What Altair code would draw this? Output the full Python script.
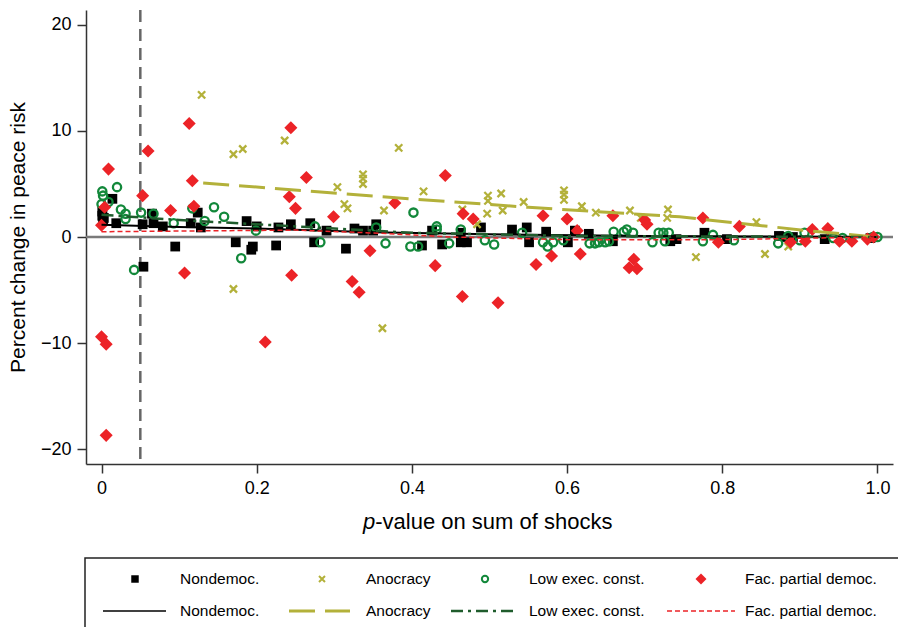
import altair as alt
import pandas as pd

# ---------------- data ----------------
groups = ["Nondemoc.", "Anocracy", "Low exec. const.", "Fac. partial democ."]

nd_p = [0.001, 0.001, 0.002, 0.003, 0.014, 0.019, 0.053, 0.065, 0.067, 0.079, 0.115, 0.124, 0.128,
        0.187, 0.200, 0.228, 0.244, 0.095, 0.173, 0.195, 0.193, 0.225, 0.054, 0.269, 0.274, 0.290,
        0.315, 0.326, 0.337, 0.354, 0.350, 0.413, 0.426, 0.439, 0.463, 0.463, 0.471, 0.489, 0.529,
        0.548, 0.551, 0.573, 0.601, 0.610, 0.628, 0.659, 0.733, 0.741, 0.777, 0.806, 0.873, 0.882,
        0.891, 0.932, 0.991]
nd_v = [2.4, 2.0, 1.6, 1.8, 3.6, 1.3, 1.2, 2.2, 1.3, 1.0, 1.3, 2.3, 0.9,
        1.5, 1.0, 0.9, 1.2, -0.9, -0.5, -0.9, -1.2, -0.8, -2.8, 1.3, -0.5, 0.6,
        -1.1, 0.8, 0.6, 1.2, 0.6, -0.8, 0.6, -0.7, 0.4, -0.5, -0.5, 0.9, 0.7,
        0.9, -0.5, 0.5, -0.5, 0.6, 0.3, -0.4, -0.4, -0.2, 0.4, -0.2, 0.1, 0.0,
        0.0, -0.2, -0.1]

an_p = [0.129, 0.170, 0.182, 0.236, 0.170, 0.362, 0.304, 0.313, 0.317, 0.337, 0.337, 0.337,
        0.383, 0.364, 0.415, 0.465, 0.497, 0.498, 0.498, 0.515, 0.517, 0.544, 0.596, 0.596,
        0.596, 0.619, 0.637, 0.681, 0.695, 0.730, 0.729, 0.484, 0.766, 0.844, 0.855, 0.885]
an_v = [13.4, 7.8, 8.3, 9.1, -4.9, -8.6, 4.7, 3.1, 2.7, 5.9, 5.5, 5.0,
        8.4, 2.5, 4.3, 2.6, 2.2, 3.9, 3.4, 4.1, 2.5, 3.3, 4.4, 4.0,
        3.5, 2.9, 2.3, 2.5, 1.8, 2.6, 1.8, 1.2, -1.9, 1.4, -1.6, -0.9]

lo_p = [0.001, 0.002, 0.000, 0.009, 0.020, 0.025, 0.031, 0.031, 0.051, 0.067, 0.093, 0.117,
        0.133, 0.145, 0.158, 0.199, 0.042, 0.180, 0.275, 0.282, 0.354, 0.366, 0.402, 0.398,
        0.408, 0.432, 0.432, 0.448, 0.463, 0.494, 0.506, 0.542, 0.569, 0.575, 0.582, 0.595,
        0.629, 0.636, 0.641, 0.649, 0.654, 0.660, 0.673, 0.677, 0.685, 0.710, 0.718, 0.724,
        0.731, 0.726, 0.775, 0.788, 0.815, 0.872, 0.885, 0.900, 0.906, 0.943, 0.955, 0.994, 1.000]
lo_v = [4.3, 3.9, 3.1, 3.3, 4.7, 2.6, 2.2, 1.7, 2.3, 2.2, 1.3, 2.7,
        1.5, 2.8, 1.9, 0.6, -3.1, -2.0, 1.0, -0.5, 0.9, -0.6, 2.3, -0.9,
        -0.9, 1.0, 0.7, -0.6, 0.7, -0.3, -0.7, 0.4, -0.5, -0.9, -0.5, -0.3,
        -0.6, -0.6, -0.5, -0.5, -0.4, 0.5, 0.5, 0.7, 0.4, -0.5, 0.4, 0.4,
        0.4, -0.4, -0.4, 0.2, -0.3, -0.6, 0.1, -0.3, 0.4, -0.1, -0.1, 0.0, 0.0]

fa_p = [0.000, 0.006, 0.006, 0.009, 0.004, 0.000, 0.060, 0.053, 0.113, 0.117, 0.119, 0.089,
        0.244, 0.242, 0.250, 0.107, 0.245, 0.211, 0.264, 0.299, 0.346, 0.323, 0.332, 0.378,
        0.443, 0.466, 0.479, 0.430, 0.465, 0.511, 0.569, 0.600, 0.613, 0.580, 0.560, 0.617,
        0.659, 0.700, 0.703, 0.686, 0.680, 0.690, 0.775, 0.822, 0.795, 0.888, 0.907, 0.916,
        0.936, 0.951, 0.967, 0.987, 0.995]
fa_v = [-9.4, -10.1, -18.7, 6.4, 2.8, 1.1, 8.1, 3.9, 10.7, 5.3, 2.9, 2.5,
        10.3, 3.8, 2.7, -3.4, -3.6, -9.9, 5.6, 1.9, -1.3, -4.2, -5.2, 3.2,
        5.8, 2.2, 1.7, -2.7, -5.6, -6.2, 2.0, 1.7, 0.6, -1.8, -2.6, -1.6,
        2.0, 1.6, 1.2, -2.1, -2.9, -3.0, 1.8, 1.0, -0.5, -0.5, -0.4, 0.7,
        0.8, -0.4, -0.4, -0.2, 0.0]

# fitted lines
fit_nd_p = [0.0, 0.1, 0.2, 0.35, 0.5, 0.7, 1.0]
fit_nd_v = [1.15, 0.95, 0.8, 0.45, 0.25, 0.1, 0.0]
fit_an_p = [0.131, 0.36, 0.55, 0.745, 0.91, 0.99]
fit_an_v = [5.1, 3.8, 2.8, 1.9, 0.6, 0.05]
fit_lo_p = [0.0, 0.1, 0.2, 0.3, 0.4, 0.6, 1.0]
fit_lo_v = [2.1, 1.6, 1.2, 0.8, 0.4, 0.1, 0.0]
fit_fa_p = [0.0, 0.25, 0.36, 0.45, 0.6, 0.8, 1.0]
fit_fa_v = [0.5, 0.65, 0.35, 0.0, -0.25, -0.25, 0.0]

threshold_p = [0.05]
zero_v = [0]

x_ticks = [0, 0.2, 0.4, 0.6, 0.8, 1.0]
y_ticks = [-20, -10, 0, 10, 20]

# ---------------- style ----------------
FONT = "Liberation Sans"
C_ND = "#000000"
C_AN = "#b3b13a"
C_LO = "#12883a"
C_LO_LINE = "#1f5c2c"
C_FA = "#ec2327"
AX = "#333333"

W, H = 807, 454

X = alt.X("p:Q",
          scale=alt.Scale(domain=[-0.02, 1.02], nice=False, zero=False),
          axis=alt.Axis(values=x_ticks, title=None, grid=False,
                        labelExpr="datum.value == 0 ? '0' : format(datum.value, '.1f')",
                        labelFont=FONT, labelFontSize=18, labelColor="#000",
                        tickSize=9, tickWidth=1.5, tickColor=AX,
                        domainColor=AX, domainWidth=1.5, labelPadding=6))
Y = alt.Y("v:Q",
          scale=alt.Scale(domain=[-21.4, 21.4], nice=False, zero=False),
          axis=alt.Axis(values=y_ticks, grid=False,
                        title="Percent change in peace risk",
                        titleFont=FONT, titleFontSize=21, titleFontWeight="normal",
                        titleColor="#000", titleX=-68, titleY=H / 2,
                        titleAngle=270, titleAlign="center", titleBaseline="middle",
                        labelFont=FONT, labelFontSize=18, labelColor="#000",
                        tickSize=9, tickWidth=1.5, tickColor=AX,
                        domainColor=AX, domainWidth=1.5, labelPadding=6))


def df(p, v):
    return pd.DataFrame({"p": p, "v": v})


zero_line = alt.Chart(pd.DataFrame({"v": zero_v})).mark_rule(
    color="#7a7a7a", strokeWidth=2.5).encode(y=Y)
thr_line = alt.Chart(pd.DataFrame({"p": threshold_p})).mark_rule(
    color="#666666", strokeWidth=2.5, strokeDash=[12, 7]).encode(x=X)

XPATH = "M-1,-1L1,1M-1,1L1,-1"

pts_nd = alt.Chart(df(nd_p, nd_v)).mark_point(
    shape="square", filled=True, size=95, color=C_ND, opacity=1).encode(x=X, y=Y)
pts_an = alt.Chart(df(an_p, an_v)).mark_point(
    shape=XPATH, filled=False, size=52, color=C_AN, strokeWidth=2.3, opacity=1).encode(x=X, y=Y)
pts_lo = alt.Chart(df(lo_p, lo_v)).mark_point(
    shape="circle", filled=False, size=68, color=C_LO, strokeWidth=2.3, opacity=1).encode(x=X, y=Y)
pts_fa = alt.Chart(df(fa_p, fa_v)).mark_point(
    shape="diamond", filled=True, size=170, color=C_FA, opacity=1).encode(x=X, y=Y)

ln_nd = alt.Chart(df(fit_nd_p, fit_nd_v)).mark_line(
    color=C_ND, strokeWidth=2).encode(x=X, y=Y)
ln_an = alt.Chart(df(fit_an_p, fit_an_v)).mark_line(
    color=C_AN, strokeWidth=3, strokeDash=[26, 10]).encode(x=X, y=Y)
ln_lo = alt.Chart(df(fit_lo_p, fit_lo_v)).mark_line(
    color=C_LO_LINE, strokeWidth=2.5, strokeDash=[12, 5, 3, 5]).encode(x=X, y=Y)
ln_fa = alt.Chart(df(fit_fa_p, fit_fa_v)).mark_line(
    color=C_FA, strokeWidth=1.5, strokeDash=[5, 3]).encode(x=X, y=Y)

# x title with italic "p"
one = pd.DataFrame({"k": [0]})
xt_p = alt.Chart(one).mark_text(text="p", font=FONT, fontSize=22, fontStyle="italic",
                                align="left", baseline="middle", color="#000").encode(
    x=alt.value(277), y=alt.value(512))
xt_rest = alt.Chart(one).mark_text(text="-value on sum of shocks", font=FONT, fontSize=22,
                                   align="left", baseline="middle", color="#000").encode(
    x=alt.value(289.2), y=alt.value(512))

# ---------------- legend (drawn below the plot) ----------------
LEG_ROW1, LEG_ROW2 = 569, 601
sym_x = [49, 236, 399, 615]
lab_x = [94, 280, 443, 659]
seg_x = [(17, 80), (203, 264), (365, 431), (581, 649)]

box = alt.Chart(one).mark_rect(fill="white", stroke="#222222", strokeWidth=1.5).encode(
    x=alt.value(-1), x2=alt.value(830), y=alt.value(548), y2=alt.value(650))

leg_layers = [box]
sym_specs = [
    dict(shape="square", filled=True, size=56, color=C_ND),
    dict(shape=XPATH, filled=False, size=36, color=C_AN, strokeWidth=2),
    dict(shape="circle", filled=False, size=40, color=C_LO, strokeWidth=2),
    dict(shape="diamond", filled=True, size=120, color=C_FA),
]
line_specs = [
    dict(color=C_ND, strokeWidth=1.5),
    dict(color=C_AN, strokeWidth=3, strokeDash=[26, 10]),
    dict(color=C_LO_LINE, strokeWidth=2.5, strokeDash=[12, 5, 3, 5]),
    dict(color=C_FA, strokeWidth=1.5, strokeDash=[5, 3]),
]
for i, g in enumerate(groups):
    leg_layers.append(alt.Chart(one).mark_point(opacity=1, **sym_specs[i]).encode(
        x=alt.value(sym_x[i]), y=alt.value(LEG_ROW1)))
    leg_layers.append(alt.Chart(one).mark_rule(**line_specs[i]).encode(
        x=alt.value(seg_x[i][0]), x2=alt.value(seg_x[i][1]), y=alt.value(LEG_ROW2)))
    for row in (LEG_ROW1, LEG_ROW2):
        leg_layers.append(alt.Chart(one).mark_text(
            text=g, font=FONT, fontSize=15.5, align="left", baseline="middle", color="#000").encode(
            x=alt.value(lab_x[i]), y=alt.value(row)))

chart = alt.layer(
    zero_line, thr_line,
    pts_nd, pts_an, pts_lo, pts_fa,
    ln_nd, ln_an, ln_lo, ln_fa,
    xt_p, xt_rest,
    *leg_layers,
).properties(
    width=W, height=H,
    autosize=alt.AutoSizeParams(type="none"),
    padding={"left": 86, "top": 10, "right": 5, "bottom": 163},
    background="white",
).configure_view(stroke=None)

chart.save("out.html", embed_options={"renderer": "svg", "actions": False})
